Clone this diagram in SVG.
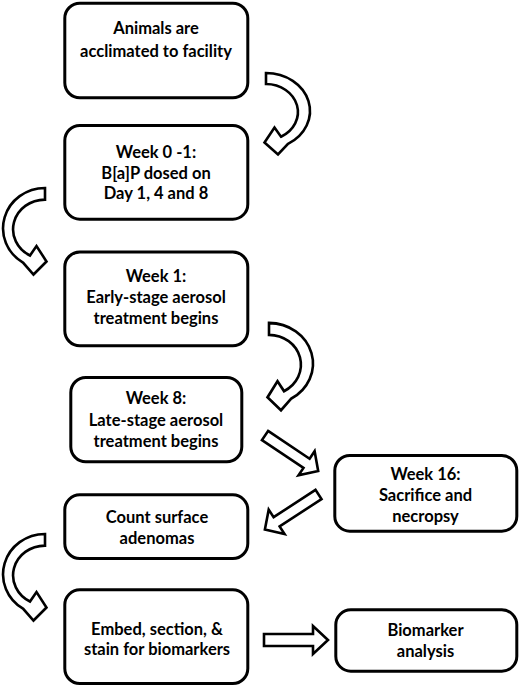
<svg xmlns="http://www.w3.org/2000/svg" xmlns:xlink="http://www.w3.org/1999/xlink" width="520" height="687" viewBox="0 0 520 687">
<style>
.box{fill:#fff;stroke:#000;stroke-width:3}
.arr{fill:#fff;stroke:#000;stroke-width:2.6;stroke-linejoin:miter}
text{font-family:Lato,"Open Sans","Liberation Sans",sans-serif;font-weight:bold;font-size:16.5px;fill:#000;text-anchor:middle}
</style>
<defs>
<path id="curveR" d="M266,73 A44,38 0 0 1 288,143.9 L278,154.5 L264.5,142.5 L274.5,127.5 L281,136.7 A32,28 0 0 0 266,84 Z"/>
<path id="curveL" d="M45,188 A42,40.3 0 0 0 23,262.6 L33.5,274.5 L46.5,261.5 L36.5,246 L30,255.5 A32,29.7 0 0 1 45,199.6 Z"/>
<path id="straight" d="M0,-5.5 L50,-5.5 L50,-14.5 L64,0 L50,14.5 L50,5.5 L0,5.5 Z"/>
</defs>
<rect width="520" height="687" fill="#fff"/>
<g id="connectors">
<use xlink:href="#curveR" class="arr"/>
<use xlink:href="#curveL" class="arr"/>
<use xlink:href="#curveR" class="arr" transform="translate(3,323) scale(1,1.07) translate(0,-73)"/>
<use xlink:href="#curveL" class="arr" transform="translate(0,346)"/>
<use xlink:href="#straight" class="arr" transform="translate(265,435.5) rotate(33.8)"/>
<use xlink:href="#straight" class="arr" transform="translate(318.5,494.5) rotate(146.9)"/>
<polygon class="arr" points="264,634 313,634 313,626 328,640 313,654 313,646 264,646"/>
</g>
<g id="n1"><rect class="box" x="64.8" y="3.2" width="183" height="94.6" rx="15"/>
<text x="156" y="34">Animals are</text><text x="156" y="57">acclimated to facility</text></g>
<g id="n2"><rect class="box" x="64.8" y="125.5" width="183" height="93.7" rx="15"/>
<text x="156" y="158">Week 0 -1:</text><text x="156" y="178.5">B[a]P dosed on</text><text x="156" y="199">Day 1, 4 and 8</text></g>
<g id="n3"><rect class="box" x="64.8" y="252" width="183" height="93.8" rx="15"/>
<text x="156" y="282">Week 1:</text><text x="156" y="303">Early-stage aerosol</text><text x="156" y="324">treatment begins</text></g>
<g id="n4"><rect class="box" x="70.8" y="377.5" width="171" height="84.3" rx="15"/>
<text x="156" y="404">Week 8:</text><text x="156" y="426">Late-stage aerosol</text><text x="156" y="447">treatment begins</text></g>
<g id="n5"><rect class="box" x="334.8" y="455.5" width="182" height="75.7" rx="15"/>
<text x="425.5" y="480">Week 16:</text><text x="425.5" y="501">Sacrifice and</text><text x="425.5" y="522">necropsy</text></g>
<g id="n6"><rect class="box" x="64.8" y="494.8" width="183" height="63.7" rx="15"/>
<text x="157" y="523">Count surface</text><text x="157" y="544">adenomas</text></g>
<g id="n7"><rect class="box" x="64.8" y="589.8" width="183" height="93.7" rx="15"/>
<text x="157" y="635">Embed, section, &amp;</text><text x="157" y="655">stain for biomarkers</text></g>
<g id="n8"><rect class="box" x="335.8" y="609.8" width="181" height="61.4" rx="15"/>
<text x="425.5" y="636">Biomarker</text><text x="425.5" y="657">analysis</text></g>
</svg>
